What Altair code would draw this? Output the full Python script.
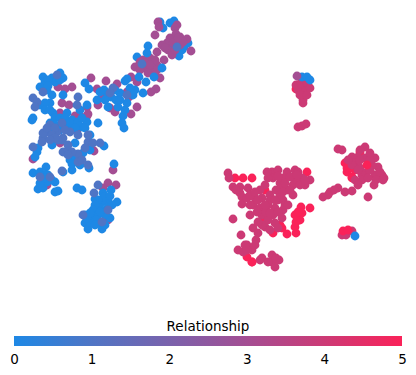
import altair as alt
import pandas as pd

# Embedding coordinates, grouped by draw order and value
red_under = [(235,178),(243,178),(252,178),(307,172),(265,190),(262,220),(296,233),(295,227),(300,220),(295,215),(301,207),(310,208),(302,213),(296,222),(298,212),(273,233),(282,228),(287,234),(280,225),(252,262),(247,257),(296,89),(345,163),(347,172),(360,152),(352,177),(347,168),(352,178),(355,170),(350,160)]
blue_left_under = [(160,22),(163,28),(170,23),(174,21),(188,43),(178,49),(179,56),(172,48),(182,50),(137,57),(184,47)]
purple_under = [(158,22),(159,27),(177,25),(175,28),(155,35),(170,38),(180,37),(187,39),(167,43),(173,43),(180,45),(168,50),(191,51),(172,55),(164,60),(157,52),(152,60),(148,63),(143,60),(157,65),(135,67),(145,68),(152,68),(157,70),(148,73),(160,78),(131,77),(137,82),(150,58),(155,60),(162,45),(176,34),(183,42),(178,38),(165,48),(175,50),(145,63),(150,65),(155,75),(140,70),(140,62),(91,78),(106,81),(117,84),(97,89),(102,97),(127,92),(129,97),(156,89),(151,92),(137,107),(131,114),(110,108),(115,112),(98,105),(58,87),(65,89),(72,87),(62,103),(69,105),(60,113),(75,116),(87,107),(88,114),(81,117),(77,130),(33,159),(94,151),(60,143),(113,170),(47,185),(108,183),(116,185),(103,188),(108,220),(87,116)]
blue = [(148,46),(147,53),(162,68),(154,77),(139,77),(146,82),(125,81),(127,79),(85,83),(89,89),(97,100),(106,92),(111,97),(120,93),(118,107),(127,103),(135,90),(143,93),(123,116),(122,123),(124,128),(108,107),(104,90),(116,100),(100,92),(105,100),(115,90),(120,100),(130,88),(125,110),(133,95),(60,73),(63,78),(43,77),(52,78),(47,90),(52,95),(45,82),(55,82),(60,80),(48,80),(40,87),(48,86),(63,95),(33,118),(32,120),(40,105),(50,103),(45,103),(87,105),(98,123),(87,122),(67,113),(53,113),(50,123),(55,133),(82,127),(90,135),(68,125),(55,118),(72,120),(45,110),(50,110),(60,118),(65,118),(70,123),(60,125),(55,125),(78,122),(80,110),(82,118),(75,128),(60,130),(50,130),(85,128),(52,145),(75,143),(37,152),(35,157),(38,148),(104,146),(90,150),(83,153),(70,160),(72,170),(63,172),(89,168),(114,164),(46,167),(33,173),(40,172),(48,175),(55,182),(42,180),(38,189),(43,188),(55,192),(58,191),(45,175),(52,180),(47,182),(40,183),(45,178),(77,188),(82,190),(111,190),(103,193),(95,199),(117,202),(108,200),(102,202),(108,207),(100,208),(104,197),(110,196),(98,200),(112,205),(105,212),(95,205),(93,210),(85,215),(92,218),(98,215),(85,223),(93,223),(110,218),(88,229),(102,229),(100,222),(96,220),(90,222),(87,218),(95,225),(105,225),(105,215),(100,212),(90,213),(73,155),(76,158),(80,165),(72,164)]
slate = [(142,64),(177,47),(113,88),(127,95),(110,93),(78,97),(33,98),(37,102),(35,107),(43,92),(57,75),(77,105),(62,123),(47,132),(43,138),(70,132),(63,138),(78,135),(43,133),(57,132),(62,140),(42,142),(33,147),(50,125),(47,128),(55,128),(65,130),(52,135),(58,140),(63,152),(68,150),(78,154),(72,152),(68,155),(88,142),(100,143),(93,143),(88,165),(78,162),(82,160),(62,171),(40,177),(50,177),(98,185),(94,193),(102,222),(108,210),(83,215),(55,138),(50,140),(68,145),(88,135),(85,148)]
crimson = [(298,85),(303,87),(308,88),(298,90),(305,92),(303,100),(303,103),(300,95),(307,95),(296,85),(301,83),(307,83),(310,88),(298,127),(302,126),(306,124),(338,149),(342,150),(365,147),(352,157),(358,157),(365,158),(375,158),(378,167),(355,163),(365,173),(375,175),(382,175),(372,165),(360,168),(362,175),(360,160),(370,160),(352,165),(358,170),(370,170),(380,172),(348,160),(362,180),(355,180),(370,153),(360,150),(384,178),(376,180),(368,178),(345,192),(330,192),(338,188),(383,180),(374,185),(358,185),(352,191),(368,197),(334,190),(328,195),(323,197),(342,235),(346,235),(352,231),(228,173),(229,178),(233,187),(240,187),(248,188),(242,197),(242,204),(233,219),(253,228),(241,235),(256,240),(247,245),(238,250),(243,252),(252,250),(260,260),(272,255),(279,260),(272,262),(275,267),(247,250),(245,245),(255,245),(262,258),(268,262),(276,258),(240,193),(236,190),(247,198),(272,172),(278,170),(295,170),(287,172),(298,172),(273,178),(283,178),(293,177),(302,178),(310,180),(305,185),(293,195),(293,185),(265,185),(260,190),(283,187),(255,198),(262,198),(253,205),(260,208),(262,215),(278,200),(283,200),(275,208),(283,210),(273,215),(282,218),(275,223),(265,227),(270,230),(268,205),(270,195),(288,190),(276,190),(280,183),(297,180),(268,220),(278,228),(250,205),(257,212),(258,200),(266,212),(270,213),(262,225),(258,222),(278,212),(285,205),(288,205),(280,195),(270,200),(265,205),(275,200),(283,192),(290,190),(300,185),(278,176),(285,183),(290,177),(297,175),(305,180),(268,178),(267,172),(250,215),(250,195),(255,192),(258,233)]
red_top = [(367,165),(343,231),(348,230),(252,262)]
blue_top = [(355,236),(302,77),(307,77),(310,80)]
purple_top = [(297,76)]

groups = [(red_under,5),(blue_left_under,0),(purple_under,3),(blue,0),(slate,1),(crimson,4),(red_top,5),(blue_top,0),(purple_top,3)]
xs, ys, vals = [], [], []
for pts, v in groups:
    for x, y in pts:
        xs.append(x); ys.append(y); vals.append(v)

df = pd.DataFrame({"e1": xs, "e2": ys, "Relationship": vals, "n": range(len(xs))})
stops = ["#1E88E5", "#4F75C5", "#7A62AC", "#A44E93", "#CC3A75", "#FA2259"]
ticks = [0, 1, 2, 3, 4, 5]

scatter = alt.Chart(df).mark_circle(size=78, opacity=1).encode(
    x=alt.X("e1:Q", axis=None, scale=alt.Scale(domain=[8, 408], nice=False, zero=False)),
    y=alt.Y("e2:Q", axis=None, scale=alt.Scale(domain=[346, 8], nice=False, zero=False)),
    color=alt.Color("Relationship:Q", scale=alt.Scale(domain=ticks, range=stops), legend=None),
    order="n:Q",
)

bar_gradient = alt.Gradient(gradient="linear", x1=0, x2=1, y1=0, y2=0,
    stops=[alt.GradientStop(offset=i / 5, color=c) for i, c in enumerate(stops)])

bar = alt.Chart(pd.DataFrame({"a": [0], "b": [5]})).mark_rect(color=bar_gradient).encode(
    x=alt.X("a:Q", scale=alt.Scale(domain=[-0.0773, 5.0773], nice=False, zero=False),
        axis=alt.Axis(values=ticks, title=None, domain=False, ticks=False, grid=False, labelFlush=False,
            labelBound=False, labelFont="DejaVu Sans", labelFontSize=13.5, labelColor="#000000",
            labelPadding=6, labelAngle=0, format="d", orient="bottom")),
    x2="b:Q",
    y=alt.value(328),
    y2=alt.value(338),
)

title = alt.Chart(pd.DataFrame({"t": ["Relationship"]})).mark_text(
    font="DejaVu Sans", fontSize=13.5, color="#000000", baseline="alphabetic", align="center"
).encode(text="t:N", x=alt.value(200), y=alt.value(323))

chart = alt.layer(scatter, bar, title).resolve_scale(x="independent", y="independent", color="independent").properties(
    width=400, height=338, padding=0, autosize=alt.AutoSizeParams(type="pad")
).configure_view(stroke=None)

chart.save("out.html", embed_options={"renderer": "svg", "actions": False})
